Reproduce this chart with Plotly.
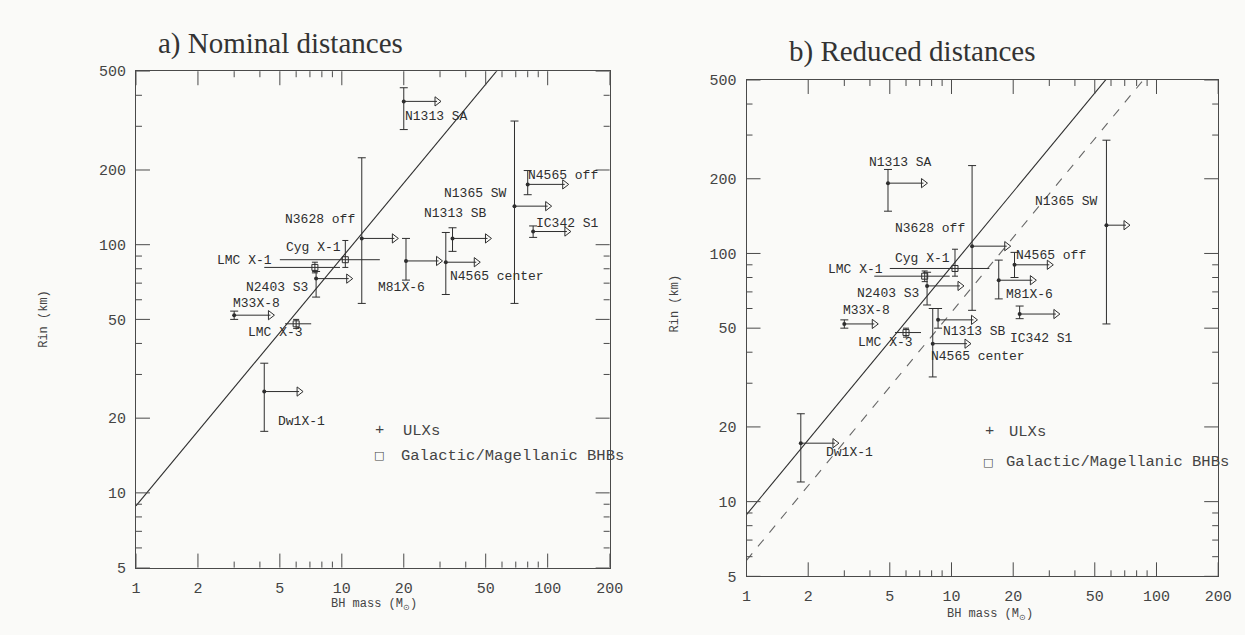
import numpy as np
import plotly.graph_objects as go

# ---------------- data ----------------
ulx_names = ["N1313 SA", "N1365 SW", "N4565 off", "N1313 SB", "IC342 S1",
             "N4565 center", "M81X-6", "N3628 off", "N2403 S3", "M33X-8", "Dw1X-1"]

# a) nominal distances
mass_a = [20, 69, 80, 34.5, 85, 32, 20.5, 12.5, 7.5, 3.0, 4.2]
rin_a = [378, 143, 175, 106, 113, 85, 86, 106, 73, 52, 25.6]
rin_hi_a = [429, 315, 199, 117, 119, 112, 106, 224, 78, 54, 33.3]
rin_lo_a = [291, 58, 159, 94, 107, 63, 72, 58, 61.5, 50, 17.7]
arrow_a = [29, 100, 121, 51, 124, 45, 29.5, 18, 10.8, 4.5, 6.2]

# b) reduced distances
mass_b = [4.9, 57, 20.3, 8.6, 21.5, 8.1, 17, 12.6, 7.6, 3.0, 1.84]
rin_b = [192, 130, 90, 54, 57, 43.3, 78, 107, 74, 52, 17.2]
rin_hi_b = [218, 286, 101, 60, 61.4, 60, 94, 226, 84, 54, 22.6]
rin_lo_b = [148, 52, 80, 50, 54.6, 31.8, 65.6, 59, 62, 50, 12.0]
arrow_b = [7.3, 71, 30, 12.8, 32.3, 11.9, 24.8, 18.6, 11, 4.2, 2.7]

# Galactic / Magellanic black-hole binaries
bh_names = ["Cyg X-1", "LMC X-1", "LMC X-3"]
bh_mass = [10.4, 7.4, 6.0]
bh_mass_lo = [5.0, 4.2, 5.3]
bh_mass_hi = [15.3, 9.8, 7.1]
bh_rin = [87, 81, 48]
bh_rin_lo = [81, 77, 46]
bh_rin_hi = [104, 85, 50]

# R_in = k * M relations
isco_k = 8.86
reduced_k = 5.8
line_mass = [1, 200]

x_ticks = [1, 2, 5, 10, 20, 50, 100, 200]
x_minor = [3, 4, 6, 7, 8, 9, 30, 40, 60, 70, 80, 90]
y_ticks = [5, 10, 20, 50, 100, 200, 500]
y_minor = [6, 7, 8, 9, 30, 40, 60, 70, 80, 90, 300, 400]

# ---------------- style ----------------
C = "#2e2e2e"
AX = "#4a4a4a"
BG = "#fafaf8"
MONO = "Liberation Mono"
LBL_FONT = dict(family=MONO, size=13, color=C)
MAJOR_LEN, MINOR_LEN = 14, 6

# label offsets (pixels: dx right, dy up) relative to point
off_a = {"N1313 SA": (33, -15), "N1365 SW": (-39, 13), "N4565 off": (35, 9),
         "N1313 SB": (3, 25), "IC342 S1": (34, 8), "N4565 center": (51, -14),
         "M81X-6": (-4, -27), "N3628 off": (-42, 19), "N2403 S3": (-39, -9),
         "M33X-8": (22, 12), "Dw1X-1": (37, -30),
         "Cyg X-1": (-32, 12), "LMC X-1": (-70, 7), "LMC X-3": (-21, -9)}
off_b = {"N1313 SA": (13, 21), "N1365 SW": (-40, 24), "N4565 off": (36, 9),
         "N1313 SB": (36, -12), "IC342 S1": (22, -24), "N4565 center": (45, -13),
         "M81X-6": (31, -14), "N3628 off": (-42, 18), "N2403 S3": (-39, -8),
         "M33X-8": (22, 13), "Dw1X-1": (49, -9),
         "Cyg X-1": (-32, 10), "LMC X-1": (-69, 7), "LMC X-3": (-21, -10)}

fig = go.Figure()
annotations = []
shapes = []


def tick_shapes(xa, ya):
    # inside tick marks on all four sides, positioned through the data axes
    xdom, ydom = xa + " domain", ya + " domain"
    line = dict(color=AX, width=1)
    for vals, L in ((x_ticks, MAJOR_LEN), (x_minor, MINOR_LEN)):
        for v in vals:
            for anc, sgn in ((0, 1), (1, -1)):
                shapes.append(dict(type="line", xref=xa, yref=ydom, x0=v, x1=v,
                                   ysizemode="pixel", yanchor=anc, y0=0, y1=sgn * L,
                                   line=line, layer="above"))
    for vals, L in ((y_ticks, MAJOR_LEN), (y_minor, MINOR_LEN)):
        for v in vals:
            for anc, sgn in ((0, 1), (1, -1)):
                shapes.append(dict(type="line", xref=xdom, yref=ya, y0=v, y1=v,
                                   xsizemode="pixel", xanchor=anc, x0=0, x1=sgn * L,
                                   line=line, layer="above"))


def panel(xa, ya, mass, rin, hi, lo, arrow, offs, dashed):
    fig.add_trace(go.Scatter(x=line_mass, y=[isco_k * m for m in line_mass], mode="lines",
                             line=dict(color=C, width=1.1), xaxis=xa, yaxis=ya,
                             showlegend=False, hoverinfo="skip"))
    if dashed:
        fig.add_trace(go.Scatter(x=line_mass, y=[reduced_k * m for m in line_mass], mode="lines",
                                 line=dict(color="#666", width=1.1, dash="dash"), xaxis=xa, yaxis=ya,
                                 showlegend=False, hoverinfo="skip"))
    ax, ay = [], []
    for m, r, a in zip(mass, rin, arrow):
        ax += [m, a, None]
        ay += [r, r, None]
    fig.add_trace(go.Scatter(x=ax, y=ay, mode="lines", line=dict(color=C, width=1),
                             xaxis=xa, yaxis=ya, showlegend=False, hoverinfo="skip"))
    fig.add_trace(go.Scatter(x=arrow, y=rin, mode="markers",
                             marker=dict(symbol="triangle-right-open", size=8, color=C,
                                         line=dict(width=1, color=C)),
                             xaxis=xa, yaxis=ya, showlegend=False, hoverinfo="skip"))
    fig.add_trace(go.Scatter(x=mass, y=rin, mode="markers",
                             marker=dict(symbol="circle", size=4, color=C),
                             error_y=dict(type="data", symmetric=False,
                                          array=[h - r for h, r in zip(hi, rin)],
                                          arrayminus=[r - l for r, l in zip(rin, lo)],
                                          color=C, thickness=1, width=4),
                             xaxis=xa, yaxis=ya, showlegend=False))
    fig.add_trace(go.Scatter(x=bh_mass, y=bh_rin, mode="markers",
                             marker=dict(symbol="square-open", size=6, color=C, line=dict(width=1)),
                             error_x=dict(type="data", symmetric=False,
                                          array=[h - m for h, m in zip(bh_mass_hi, bh_mass)],
                                          arrayminus=[m - l for m, l in zip(bh_mass, bh_mass_lo)],
                                          color=C, thickness=1, width=0),
                             error_y=dict(type="data", symmetric=False,
                                          array=[h - r for h, r in zip(bh_rin_hi, bh_rin)],
                                          arrayminus=[r - l for r, l in zip(bh_rin, bh_rin_lo)],
                                          color=C, thickness=1, width=3),
                             xaxis=xa, yaxis=ya, showlegend=False))
    for n, m, r in list(zip(ulx_names, mass, rin)) + list(zip(bh_names, bh_mass, bh_rin)):
        dx, dy = offs[n]
        annotations.append(dict(x=np.log10(m), y=np.log10(r), xref=xa, yref=ya, text=n,
                                showarrow=False, xshift=dx, yshift=dy, font=LBL_FONT,
                                xanchor="center", yanchor="middle"))
    tick_shapes(xa, ya)


panel("x", "y", mass_a, rin_a, rin_hi_a, rin_lo_a, arrow_a, off_a, False)
panel("x2", "y2", mass_b, rin_b, rin_hi_b, rin_lo_b, arrow_b, off_b, True)

XR = [0, np.log10(200)]
YR = [np.log10(5), np.log10(500)]
TICKFONT = dict(family=MONO, size=15, color="#444")


def xaxis(domain, anchor):
    return dict(domain=domain, anchor=anchor, type="log", range=XR,
                tickmode="array", tickvals=x_ticks, ticktext=[str(v) for v in x_ticks],
                showgrid=False, zeroline=False, showline=True, linecolor=AX, linewidth=1,
                mirror=True, ticks="", tickfont=TICKFONT, ticklabelstandoff=6)


def yaxis(domain, anchor):
    return dict(domain=domain, anchor=anchor, type="log", range=YR,
                tickmode="array", tickvals=y_ticks, ticktext=[str(v) for v in y_ticks],
                showgrid=False, zeroline=False, showline=True, linecolor=AX, linewidth=1,
                mirror=True, ticks="", tickfont=TICKFONT, ticklabelstandoff=6)


W, H = 1245, 635
TF = dict(family="Liberation Serif", size=29, color="#333")
AF = dict(family=MONO, size=12, color="#444")
LF = dict(family=MONO, size=15.5, color="#444")


def pa(x, y, text, font, **kw):
    d = dict(x=x / W, y=1 - y / H, xref="paper", yref="paper", text=text, showarrow=False,
             font=font, xanchor="center", yanchor="middle")
    d.update(kw)
    return d


annotations += [
    pa(280, 38, "a) Nominal distances", TF),
    pa(921, 46, "b) Reduced distances", TF),
    pa(40, 320, "Rin (km)", AF, textangle=-90),
    pa(680, 305, "Rin (km)", AF, textangle=-90),
    pa(375, 614, "BH mass (M<sub>⊙</sub>)", AF),
    pa(1000, 625, "BH mass (M<sub>⊙</sub>)", AF),
    # legends
    pa(380, 435, "+", LF),
    pa(402, 436, "ULXs", LF, xanchor="left"),
    pa(380, 461, "□", dict(family="DejaVu Sans", size=11, color="#444")),
    pa(400, 461, "Galactic/Magellanic BHBs", LF, xanchor="left"),
    pa(1000, 436, "+", LF),
    pa(1018, 437, "ULXs", LF, xanchor="left"),
    pa(998, 468, "□", dict(family="DejaVu Sans", size=11, color="#444")),
    pa(1014, 468, "Galactic/Magellanic BHBs", LF, xanchor="left"),
]

fig.update_layout(
    width=W, height=H, autosize=False,
    margin=dict(l=0, r=0, t=0, b=0),
    paper_bgcolor=BG, plot_bgcolor=BG,
    xaxis=xaxis([133 / W, 614 / W], "y"),
    yaxis=yaxis([1 - 576 / H, 1 - 66 / H], "x"),
    xaxis2=xaxis([753 / W, 1232 / W], "y2"),
    yaxis2=yaxis([1 - 585 / H, 1 - 75 / H], "x2"),
    annotations=annotations,
    shapes=shapes,
    showlegend=False,
)

fig.write_html("out.html")
